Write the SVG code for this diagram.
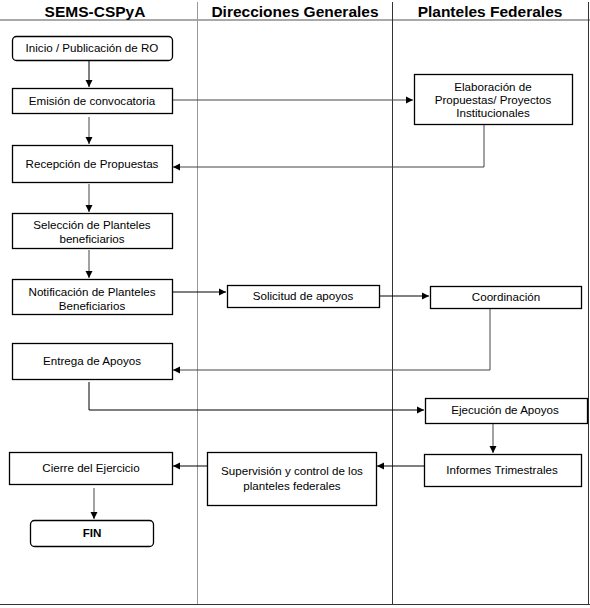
<svg xmlns="http://www.w3.org/2000/svg" width="590" height="608" viewBox="0 0 590 608">
<defs>
<marker id="ah" markerWidth="8" markerHeight="8" refX="7" refY="4" orient="auto" markerUnits="userSpaceOnUse">
<path d="M0,0.5 L7,4 L0,7.5 Z" fill="#000"/>
</marker>
<style>
.hdr{font-family:"Liberation Sans",Arial,sans-serif;font-size:15.5px;font-weight:bold;fill:#000;text-anchor:middle}
.t{font-family:"Liberation Sans",Arial,sans-serif;font-size:11.6px;fill:#000;text-anchor:middle}
.b{fill:#fff;stroke:#000;stroke-width:1.3}
.c{fill:none;stroke:#444;stroke-width:1}
.cd{fill:none;stroke:#000;stroke-width:1}
</style>
</defs>
<rect width="590" height="608" fill="#fff"/>
<g id="lanes">
<line x1="0" y1="20" x2="590" y2="20" stroke="#555" stroke-width="1"/>
<line x1="197.5" y1="2" x2="197.5" y2="604" stroke="#999" stroke-width="1"/>
<line x1="392.5" y1="2" x2="392.5" y2="604" stroke="#333" stroke-width="1"/>
<line x1="588.5" y1="2" x2="588.5" y2="604" stroke="#333" stroke-width="1"/>
<line x1="0" y1="604.5" x2="590" y2="604.5" stroke="#333" stroke-width="1"/>
<text class="hdr" x="95" y="17">SEMS-CSPyA</text>
<text class="hdr" x="295" y="17">Direcciones Generales</text>
<text class="hdr" x="490" y="17">Planteles Federales</text>
</g>
<g id="connectors">
<path class="cd" d="M89,60 V87" marker-end="url(#ah)"/>
<path class="c" d="M172,100 H413" marker-end="url(#ah)"/>
<path class="c" d="M89,117 V144" marker-end="url(#ah)"/>
<path class="c" d="M484,124 V167 H173" marker-end="url(#ah)"/>
<path class="c" d="M89,184 V212" marker-end="url(#ah)"/>
<path class="c" d="M89,250 V278" marker-end="url(#ah)"/>
<path class="cd" d="M172,292 H226" marker-end="url(#ah)"/>
<path class="cd" d="M379,296 H429" marker-end="url(#ah)"/>
<path class="c" d="M490,308 V370 H173" marker-end="url(#ah)"/>
<path class="cd" d="M89,382 V410 H424" marker-end="url(#ah)"/>
<path class="c" d="M493,423 V453" marker-end="url(#ah)"/>
<path class="cd" d="M424,466 H377" marker-end="url(#ah)"/>
<path class="cd" d="M207,466 H173" marker-end="url(#ah)"/>
<path class="c" d="M94,488 V519" marker-end="url(#ah)"/>
</g>
<g id="n-inicio"><rect class="b" x="12.5" y="36.5" width="160" height="24" rx="4"/><text class="t" x="92" y="52">Inicio / Publicación de RO</text></g>
<g id="n-emision"><rect class="b" x="12.5" y="88.5" width="160" height="25"/><text class="t" x="92" y="105">Emisión de convocatoria</text></g>
<g id="n-elaboracion"><rect class="b" x="414.5" y="74.5" width="158" height="50"/><text class="t" x="493" y="91">Elaboración de</text><text class="t" x="493" y="104">Propuestas/ Proyectos</text><text class="t" x="493" y="117">Institucionales</text></g>
<g id="n-recepcion"><rect class="b" x="12.5" y="145.5" width="160" height="37"/><text class="t" x="92" y="168">Recepción de Propuestas</text></g>
<g id="n-seleccion"><rect class="b" x="12.5" y="213.5" width="160" height="35"/><text class="t" x="92" y="229">Selección de Planteles</text><text class="t" x="92" y="243">beneficiarios</text></g>
<g id="n-notificacion"><rect class="b" x="12.5" y="279.5" width="160" height="35"/><text class="t" x="92" y="296">Notificación de Planteles</text><text class="t" x="92" y="310">Beneficiarios</text></g>
<g id="n-solicitud"><rect class="b" x="227.5" y="285.5" width="152" height="22"/><text class="t" x="303" y="300">Solicitud de apoyos</text></g>
<g id="n-coordinacion"><rect class="b" x="430.5" y="286.5" width="151" height="22"/><text class="t" x="506" y="301">Coordinación</text></g>
<g id="n-entrega"><rect class="b" x="12.5" y="343.5" width="160" height="36"/><text class="t" x="92" y="365">Entrega de Apoyos</text></g>
<g id="n-ejecucion"><rect class="b" x="425.5" y="398.5" width="162" height="25"/><text class="t" x="505" y="414">Ejecución de Apoyos</text></g>
<g id="n-informes"><rect class="b" x="424.5" y="454.5" width="157" height="32"/><text class="t" x="502" y="474">Informes Trimestrales</text></g>
<g id="n-supervision"><rect class="b" x="207.5" y="452.5" width="169" height="53"/><text class="t" x="292" y="475">Supervisión y control de los</text><text class="t" x="292" y="490">planteles federales</text></g>
<g id="n-cierre"><rect class="b" x="9.5" y="452.5" width="163" height="32"/><text class="t" x="91" y="472">Cierre del Ejercicio</text></g>
<g id="n-fin"><rect class="b" x="30.5" y="520.5" width="123" height="26" rx="4"/><text class="t" x="92" y="537" font-weight="bold">FIN</text></g>
</svg>
